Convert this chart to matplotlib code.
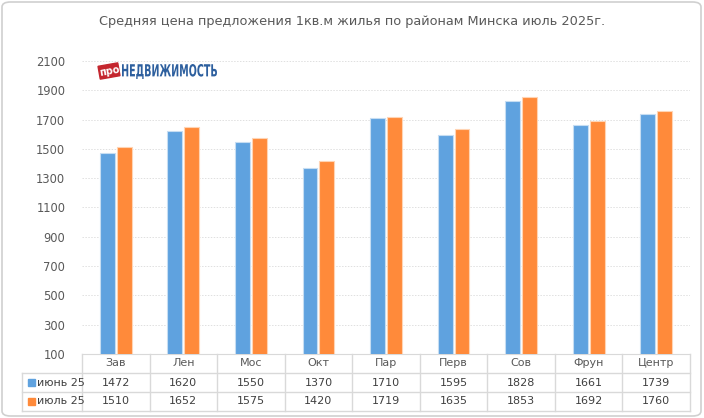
import matplotlib.pyplot as plt
from matplotlib.patches import FancyBboxPatch, PathPatch, Rectangle
from matplotlib.textpath import TextPath
from matplotlib.font_manager import FontProperties
from matplotlib.transforms import Affine2D

# data
districts = ['Зав', 'Лен', 'Мос', 'Окт', 'Пар', 'Перв', 'Сов', 'Фрун', 'Центр']
june = [1472, 1620, 1550, 1370, 1710, 1595, 1828, 1661, 1739]
july = [1510, 1652, 1575, 1420, 1719, 1635, 1853, 1692, 1760]
series_names = ['июнь 25', 'июль 25']
yticks = list(range(100, 2101, 200))

W, H = 704, 418
blue = '#5FA2DF'
orange = '#FF8A3A'
grid_c = '#D9D9D9'
text_c = '#595959'

fig = plt.figure(figsize=(W / 100, H / 100), dpi=100)
px = Affine2D().scale(1 / W, 1 / H) + fig.transFigure  # pixel coords, origin bottom-left

# rounded outer border
fig.patches.append(FancyBboxPatch((2 / W, 2 / H), 699 / W, 414 / H,
                                  boxstyle='round,pad=0,rounding_size=0.012',
                                  transform=fig.transFigure, fc='white',
                                  ec='#D0D0D0', lw=1.2, zorder=-5))

fig.text(352 / W, 1 - 22 / H,
         'Средняя цена предложения 1кв.м жилья по районам Минска июль 2025г.',
         ha='center', va='center', fontsize=9.3, color=text_c)

# main axes
left, right, top, bottom = 82, 690, 61, 354
ax = fig.add_axes([left / W, 1 - bottom / H, (right - left) / W, (bottom - top) / H])
ax.patch.set_alpha(0)
x = list(range(len(districts)))
ax.bar([i - 0.125 for i in x], june, width=0.22, color=blue, edgecolor='#C6DDF2', lw=0.8, zorder=3)
ax.bar([i + 0.125 for i in x], july, width=0.22, color=orange, edgecolor='#FFD4B4', lw=0.8, zorder=3)
ax.set_xlim(-0.5, len(districts) - 0.5)
ax.set_ylim(100, 2100)
ax.set_yticks(yticks)
ax.set_yticklabels([str(v) for v in yticks], fontsize=8.3, color=text_c)
ax.tick_params(axis='y', length=0, pad=12)
ax.set_xticks([])
for s in ['top', 'right', 'left']:
    ax.spines[s].set_visible(False)
ax.spines['bottom'].set_color(grid_c)
ax.grid(axis='y', color='#E0E0E0', linestyle=(0, (1.5, 1.5)), lw=0.7, zorder=0)

# data table below the plot
tax = fig.add_axes([22 / W, 1 - 411 / H, (right - 22) / W, 57 / H])
col_w = (right - left) / len(districts)
x0 = -0.5 - (left - 22) / col_w
tax.set_xlim(x0, len(districts) - 0.5)
tax.set_ylim(0, 3)
tax.axis('off')
lk = dict(color=grid_c, lw=1, clip_on=False)
for i in range(len(districts) + 1):
    tax.plot([i - 0.5, i - 0.5], [0, 3], **lk)
tax.plot([x0, x0], [0, 2], **lk)
for yy in [0, 1, 2]:
    tax.plot([x0, len(districts) - 0.5], [yy, yy], **lk)
for i, d in enumerate(districts):
    tax.text(i, 2.5, d, ha='center', va='center', fontsize=8, color=text_c)
    tax.text(i, 1.5, str(june[i]), ha='center', va='center', fontsize=8, color='#404040')
    tax.text(i, 0.5, str(july[i]), ha='center', va='center', fontsize=8, color='#404040')
for yy, name, c in [(1.5, series_names[0], blue), (0.5, series_names[1], orange)]:
    tax.add_patch(Rectangle((x0 + 0.085, yy - 0.2), 0.11, 0.4, color=c, clip_on=False))
    tax.text(x0 + 0.22, yy, name, ha='left', va='center', fontsize=8, color='#404040')

# logo
badge = Rectangle((-10, -6.5), 20, 13, color='#C4262E',
                  transform=Affine2D().rotate_deg(10).translate(109, H - 71) + px)
fig.patches.append(badge)
fig.text(109 / W, 1 - 71 / H, 'про', color='white', fontsize=7, fontweight='bold',
         rotation=10, ha='center', va='center')
tp = TextPath((0, 0), 'НЕДВИЖИМОСТЬ', size=10, prop=FontProperties(family='DejaVu Sans', weight='bold'))
bb = tp.get_extents()
tr = Affine2D().translate(-bb.x0, -bb.y0).scale(95 / bb.width, 15 / bb.height).translate(122, H - 79) + px
fig.patches.append(PathPatch(tp, fc='#2D5F9E', ec='none', transform=tr))

fig.savefig('out.png', dpi=100)
